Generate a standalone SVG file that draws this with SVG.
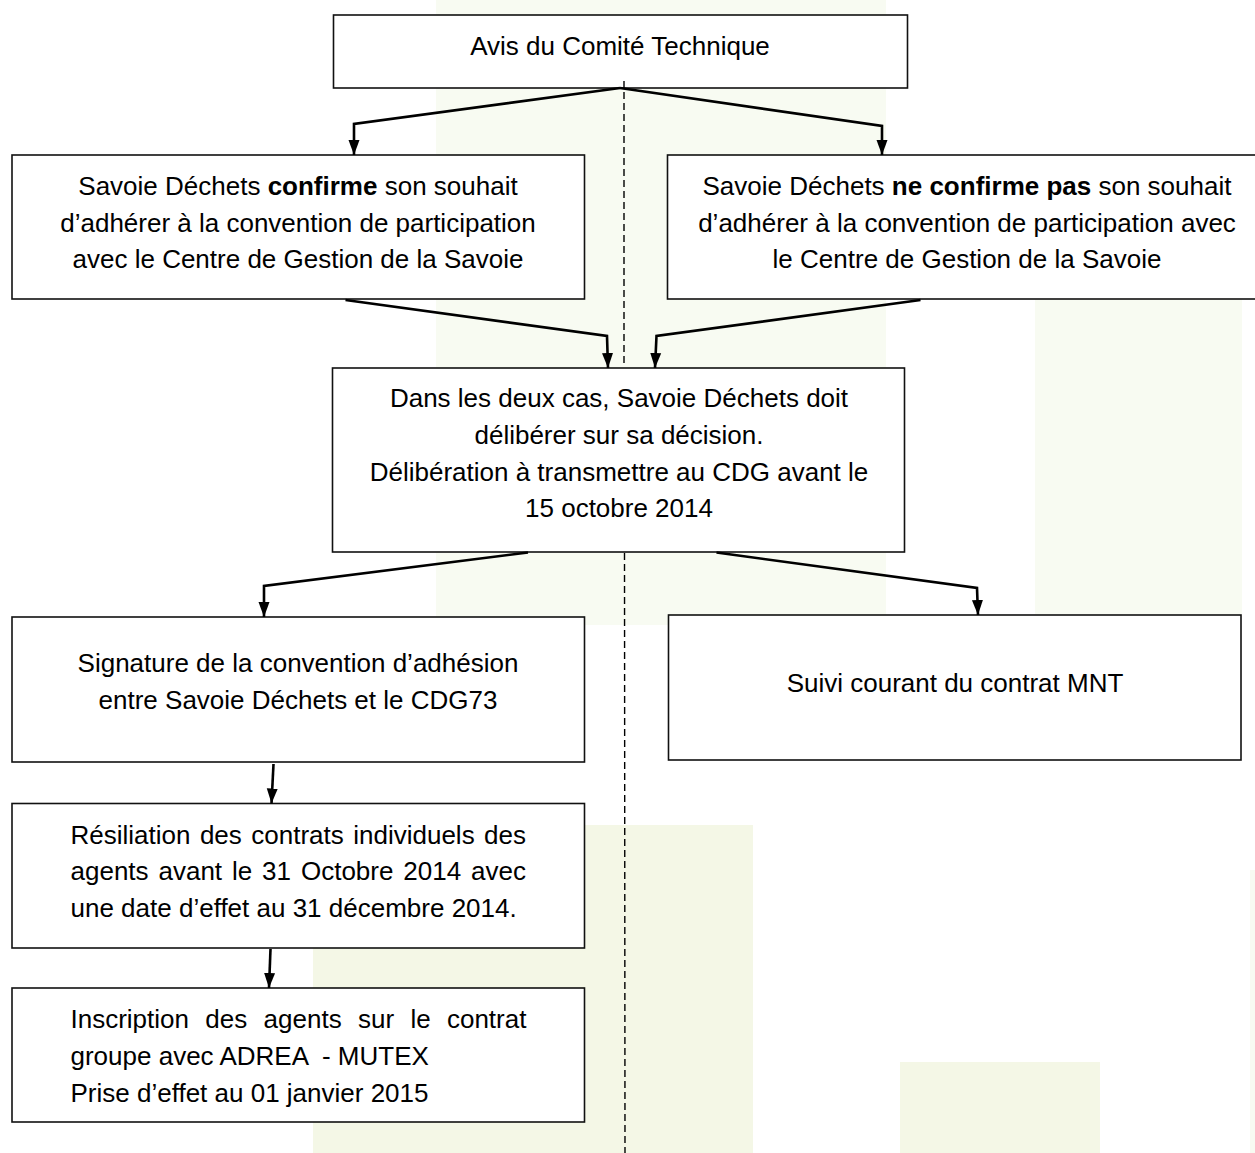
<svg xmlns="http://www.w3.org/2000/svg" width="1255" height="1153" viewBox="0 0 1255 1153">
<style>
.bg1{fill:#f8fbf2}
.bg2{fill:#f4f7e6}
.box{fill:#ffffff;stroke:#111111;stroke-width:1.6}
.t{font-family:"Liberation Sans",Arial,sans-serif;font-size:26px;fill:#000000}
.c{text-anchor:middle}
.b{font-weight:bold}
.conn{fill:none;stroke:#000000;stroke-width:2.6;stroke-linejoin:miter;marker-end:url(#ah)}
.dash{fill:none;stroke:#000000;stroke-width:1.4;stroke-dasharray:7 4}
</style>
<defs>
<marker id="ah" markerUnits="userSpaceOnUse" markerWidth="16" markerHeight="12" refX="15" refY="6" orient="auto" viewBox="0 0 16 12">
<path d="M0,0.5 L15,6 L0,11.5 z" fill="#000000"/>
</marker>
</defs>
<rect width="1255" height="1153" fill="#ffffff"/>
<g id="background">
<rect class="bg1" x="436" y="0" width="450" height="625"/>
<rect class="bg1" x="1035" y="299" width="207" height="315"/>
<rect class="bg2" x="313" y="825" width="440" height="328"/>
<rect class="bg2" x="900" y="1062" width="200" height="91"/>
<rect class="bg1" x="1250" y="870" width="5" height="283"/>
</g>
<g id="n1">
<rect class="box" x="333.5" y="15" width="574" height="73"/>
<text class="t c" x="620" y="55">Avis du Comité Technique</text>
</g>
<g id="n2">
<rect class="box" x="12" y="155" width="572.5" height="144"/>
<text class="t c" x="298" y="195">Savoie Déchets <tspan class="b">confirme</tspan> son souhait</text>
<text class="t c" x="298" y="231.5">d’adhérer à la convention de participation</text>
<text class="t c" x="298" y="268">avec le Centre de Gestion de la Savoie</text>
</g>
<g id="n3">
<rect class="box" x="667.5" y="155" width="600" height="144"/>
<text class="t c" x="967" y="195">Savoie Déchets <tspan class="b">ne confirme pas</tspan> son souhait</text>
<text class="t c" x="967" y="231.5">d’adhérer à la convention de participation avec</text>
<text class="t c" x="967" y="268">le Centre de Gestion de la Savoie</text>
</g>
<g id="n4">
<rect class="box" x="332.5" y="368" width="572" height="184"/>
<text class="t c" x="619" y="407">Dans les deux cas, Savoie Déchets doit</text>
<text class="t c" x="619" y="444">délibérer sur sa décision.</text>
<text class="t c" x="619" y="481">Délibération à transmettre au CDG avant le</text>
<text class="t c" x="619" y="517">15 octobre 2014</text>
</g>
<g id="n5">
<rect class="box" x="12" y="617" width="572.5" height="145"/>
<text class="t c" x="298" y="672">Signature de la convention d’adhésion</text>
<text class="t c" x="298" y="709">entre Savoie Déchets et le CDG73</text>
</g>
<g id="n6">
<rect class="box" x="668.5" y="615" width="572.5" height="145"/>
<text class="t c" x="955" y="692">Suivi courant du contrat MNT</text>
</g>
<g id="n7">
<rect class="box" x="12" y="803.5" width="572.5" height="144.5"/>
<text class="t" x="70.5" y="843.5" style="word-spacing:2.24px">Résiliation des contrats individuels des</text>
<text class="t" x="70.5" y="880" style="word-spacing:2.68px">agents avant le 31 Octobre 2014 avec</text>
<text class="t" x="70.5" y="917">une date d’effet au 31 décembre 2014.</text>
</g>
<g id="n8">
<rect class="box" x="12" y="988" width="572.5" height="134"/>
<text class="t" x="70.5" y="1028" style="word-spacing:9.1px">Inscription des agents sur le contrat</text>
<text class="t" x="70.5" y="1065" xml:space="preserve" style="white-space:pre">groupe avec ADREA  - MUTEX</text>
<text class="t" x="70.5" y="1102">Prise d’effet au 01 janvier 2015</text>
</g>
<g id="connectors">
<line class="dash" x1="624" y1="81" x2="624" y2="367"/>
<line class="dash" x1="624.5" y1="553" x2="625" y2="1153"/>
<polyline class="conn" points="620,88 354,124 354,155"/>
<polyline class="conn" points="620,88 882,126 882,155"/>
<polyline class="conn" points="345.5,300 607,336 608,368"/>
<polyline class="conn" points="920.5,300 656.5,336 655,368"/>
<polyline class="conn" points="528,552.5 264,586 264,617"/>
<polyline class="conn" points="716.5,552.5 977,588 978,615"/>
<polyline class="conn" points="273.5,764 271.5,803.5"/>
<polyline class="conn" points="270.5,949 269,988"/>
</g>
</svg>
